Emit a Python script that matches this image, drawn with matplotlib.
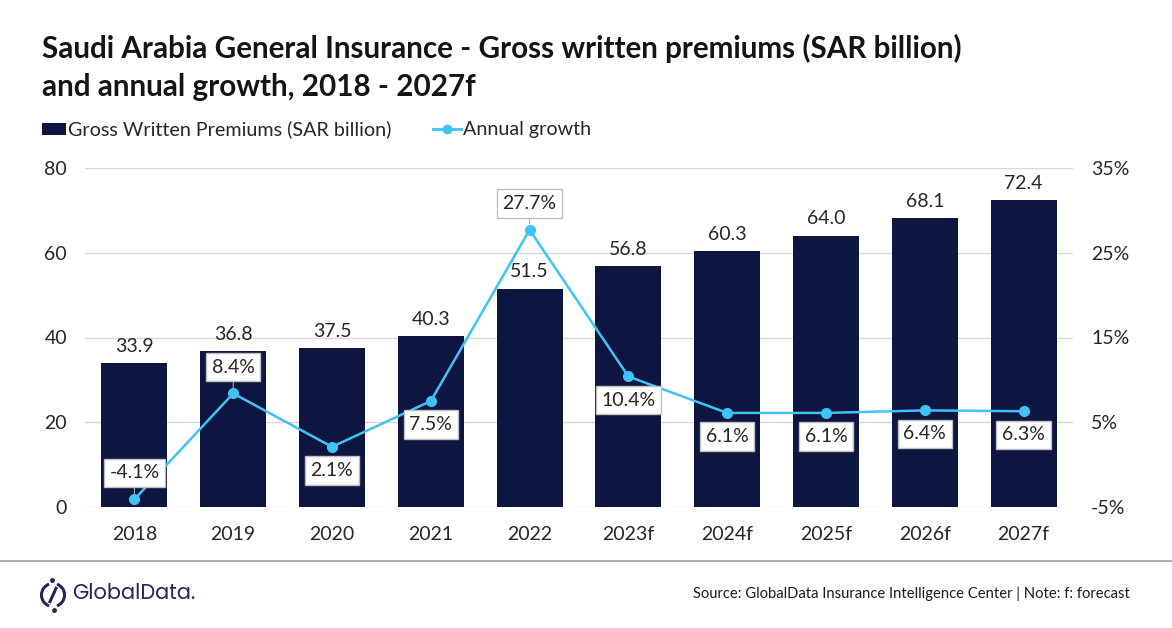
import matplotlib
matplotlib.use("Agg")
import matplotlib.pyplot as plt
from matplotlib.patches import Arc, Rectangle
from matplotlib.lines import Line2D
import numpy as np

years = ["2018", "2019", "2020", "2021", "2022", "2023f", "2024f", "2025f", "2026f", "2027f"]
premiums = [33.9, 36.8, 37.5, 40.3, 51.5, 56.8, 60.3, 64.0, 68.1, 72.4]
growth = [-4.1, 8.4, 2.1, 7.5, 27.7, 10.4, 6.1, 6.1, 6.4, 6.3]
growth_label_pos = ["above", "above", "below", "below", "above", "below", "below", "below", "below", "below"]
left_ticks = [0, 20, 40, 60, 80]
right_ticks = [-5, 5, 15, 25, 35]

BAR = "#0c1640"
LINE = "#3fc3f5"
TXT = "#262626"
FONT = "Lato"

plt.rcParams["font.family"] = [FONT, "DejaVu Sans"]

W, H = 1172, 628
fig = plt.figure(figsize=(W / 100, H / 100), dpi=100)
renderer = fig.canvas.get_renderer()

def px(x0, y0, x1, y1):
    return [x0 / W, 1 - y1 / H, (x1 - x0) / W, (y1 - y0) / H]

def fit(t, target_px):
    w = t.get_window_extent(renderer=renderer).width
    t.set_fontsize(t.get_fontsize() * target_px / w)

ax = fig.add_axes(px(85, 168, 1073, 507))
x = np.arange(len(years))
ax.bar(x, premiums, width=0.67, color=BAR, zorder=2)
ax.set_xlim(-0.5, len(years) - 0.5)
ax.set_ylim(0, 80)
ax.set_yticks(left_ticks)
ax.set_yticklabels([str(t) for t in left_ticks], fontsize=14, color=TXT)
ax.set_xticks(x)
ax.set_xticklabels(years, fontsize=14, color=TXT)
ax.tick_params(axis="both", length=0)
ax.tick_params(axis="y", pad=13)
ax.tick_params(axis="x", pad=14)
ax.grid(axis="y", color="#d9d9d9", linewidth=1, zorder=0)
for s in ax.spines.values():
    s.set_visible(False)
for xi, v in zip(x, premiums):
    ax.annotate(f"{v:.1f}", (xi, v), xytext=(0, 6), textcoords="offset points",
                ha="center", va="bottom", fontsize=14, color=TXT)

ax2 = ax.twinx()
ax2.set_ylim(-5, 35)
ax2.set_yticks(right_ticks)
ax2.set_yticklabels([f"{t}%" for t in right_ticks], fontsize=14, color=TXT)
ax2.tick_params(axis="y", length=0, pad=13)
for s in ax2.spines.values():
    s.set_visible(False)
ax2.plot(x, growth, color=LINE, linewidth=1.8, marker="o", markersize=7, zorder=3)
for xi, g, pos in zip(x, growth, growth_label_pos):
    dy = 19 if pos == "above" else -17
    ax2.annotate(f"{g:.1f}%", (xi, g), xytext=(0, dy), textcoords="offset points",
                 ha="center", va="center", fontsize=14, color=TXT, zorder=5,
                 bbox=dict(boxstyle="square,pad=0.3", fc="white", ec="#bfbfbf", lw=1),
                 arrowprops=dict(arrowstyle="-", color="#a6a6a6", lw=0.8, shrinkA=0, shrinkB=4) if pos == "above" else None)

# Title
t1 = fig.text(42 / W, 1 - 48 / H, "Saudi Arabia General Insurance - Gross written premiums (SAR billion)",
              fontsize=18.5, fontweight="bold", color="#141414", va="center", ha="left")
fit(t1, 926)
fig.text(42 / W, 1 - 87 / H, "and annual growth, 2018 - 2027f",
         fontsize=t1.get_fontsize(), fontweight="bold", color="#141414", va="center", ha="left")

# Legend
fig.patches.append(Rectangle((42 / W, 1 - 135 / H), 24 / W, 12 / H, transform=fig.transFigure,
                             facecolor=BAR, edgecolor="none"))
lt = fig.text(68 / W, 1 - 129 / H, "Gross Written Premiums (SAR billion)", fontsize=12.5, color=TXT,
              va="center", ha="left")
fit(lt, 324)
fig.lines.append(Line2D([433 / W, 461 / W], [1 - 129 / H, 1 - 129 / H], transform=fig.transFigure,
                        color=LINE, linewidth=2))
fig.lines.append(Line2D([447 / W], [1 - 129 / H], transform=fig.transFigure, color=LINE,
                        marker="o", markersize=6))
fig.text(463 / W, 1 - 129 / H, "Annual growth", fontsize=lt.get_fontsize(), color=TXT, va="center", ha="left")

# Footer
fig.lines.append(Line2D([0, 1], [1 - 561 / H, 1 - 561 / H], transform=fig.transFigure,
                        color="#a0a0a0", linewidth=1.2))
st = fig.text(1130 / W, 1 - 594 / H, "Source: GlobalData Insurance Intelligence Center | Note: f: forecast",
              fontsize=9.5, color="#1a1a1a", va="center", ha="right")
fit(st, 437)

# Logo
LOGO = "#2e1f5e"
lax = fig.add_axes(px(38, 578, 68, 612))
lax.set_xlim(-1.2, 1.2)
lax.set_ylim(-1.4, 1.4)
lax.set_aspect("equal")
lax.axis("off")
lax.add_patch(Arc((0, 0), 1.9, 1.9, theta1=110, theta2=250, color=LOGO, lw=2.2))
lax.add_patch(Arc((0, 0), 1.9, 1.9, theta1=290, theta2=430, color=LOGO, lw=2.2))
lax.plot([0.25, -0.25], [0.55, -0.55], color=LOGO, lw=2.2)
lax.plot([-0.1], [1.2], "o", color=LOGO, ms=2.5)
lax.plot([0.1], [-1.2], "o", color=LOGO, ms=2.5)
fig.text(72 / W, 1 - 594 / H, "GlobalData.", fontsize=15, color=LOGO, va="center", ha="left",
         family=["Poppins", "Inter", "DejaVu Sans"])

fig.savefig("out.png", dpi=100)
